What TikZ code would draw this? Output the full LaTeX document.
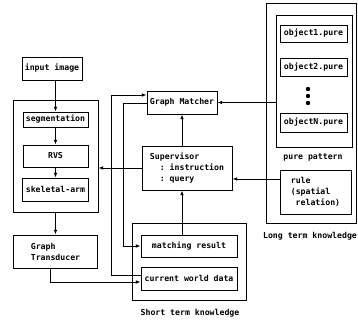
\documentclass[tikz,border=0pt]{standalone}
\usepackage{fontspec}
\setmonofont{DejaVu Sans Mono}
\usetikzlibrary{arrows.meta}
\newcommand{\PX}{0.3mm}
\newcommand{\txt}{\ttfamily\bfseries\fontsize{7}{9.3}\selectfont}

\begin{document}
\begin{tikzpicture}[
    x=\PX, y=-\PX,
    box/.style={draw=black, line width=0.8pt, inner sep=0pt, align=left, font=\txt},
    sz/.style 2 args={minimum width=#1*\PX, minimum height=#2*\PX},
    lbl/.style={font=\txt},
    arr/.style={draw=black, line width=0.8pt, -{Latex[length=4pt,width=3.2pt]}},
  ]
  \useasboundingbox (0,0) rectangle (358,321);

  %% ================= left column: image processing =================
  \node[box, sz={60}{23}] (input) at (52,68.5) {input image};
  \node[box, sz={85}{112}] (proc) at (55.5,156) {};
  \node[box, sz={65}{15}] (seg) at (55.5,119.5) {segmentation};
  \node[box, sz={65}{22}] (rvs) at (55.5,156) {RVS};
  \node[box, sz={66}{23}] (skel) at (55.5,189.5) {skeletal-arm};
  \node[box, sz={84}{33}] (gt) at (55.5,251.5) {Graph\\Transducer};

  %% ================= middle column: matcher and supervisor =================
  \node[box, sz={70}{23}] (gm) at (182,102.5) {Graph Matcher};
  \node[box, sz={90}{44}] (sup) at (187,168)
    {Supervisor\\\hspace*{1.2em}: instruction\\\hspace*{1.2em}: query};
  \node[box, sz={114}{77}] (stk) at (189,261.5) {};
  \node[box, sz={96}{22}] (mr) at (189,246) {matching result};
  \node[box, sz={96}{23}] (cwd) at (189,278.5) {current world data};
  \node[lbl] (stklbl) at (190,313) {Short term knowledge};

  %% ================= right column: long term knowledge =================
  \node[box, sz={90}{220}] (ltk) at (311,113) {};
  \node[box, sz={76}{132}] (pp) at (314,81) {};
  \node[box, sz={67}{17}] (obj1) at (313.5,33.5) {object1.pure};
  \node[box, sz={67}{18}] (obj2) at (313.5,67) {object2.pure};
  \node[box, sz={67}{19}] (objN) at (313.5,122.5) {objectN.pure};
  \foreach \y in {89,96,103} { \fill (308,\y) circle[radius=2.2*\PX]; }
  \node[lbl] (pplbl) at (313,157) {pure pattern};
  \node[box, sz={71}{44}] (rule) at (315.5,192) {rule\\(spatial\\\hspace*{0.6em}relation)};
  \node[lbl] (ltklbl) at (310,236) {Long term knowledge};

  %% ---- connectors ----
  \draw[arr] (seg.north |- input.south) -- (seg.north);
  \draw[arr] (seg.south) -- (rvs.north);
  \draw[arr] (rvs.south) -- (skel.north);
  \draw[arr] (proc.south) -- (gt.north);
  \draw[arr] ([xshift=-5*\PX]gt.south) |- ([yshift=-3.5*\PX]cwd.west);
  \draw[arr] ([yshift=3.5*\PX]cwd.west) -- ++(-29,0) |- ([yshift=7.5*\PX]gm.west);
  \draw[arr] ([yshift=-0.5*\PX]gm.west) -- ++(-23,0) |- (mr.west);
  \draw[arr] (gm.south |- sup.north) -- (gm.south);
  \draw[arr] (gm.south |- mr.north) -- (gm.south |- sup.south);
  \draw[arr] (sup.west) -- (sup.west -| proc.east);
  \draw[arr] (gm.east -| pp.west) -- (gm.east);
  \coordinate (supin) at ([yshift=-11*\PX]sup.east);
  \draw[arr] (supin -| rule.west) -- (supin);

\end{tikzpicture}
\end{document}
